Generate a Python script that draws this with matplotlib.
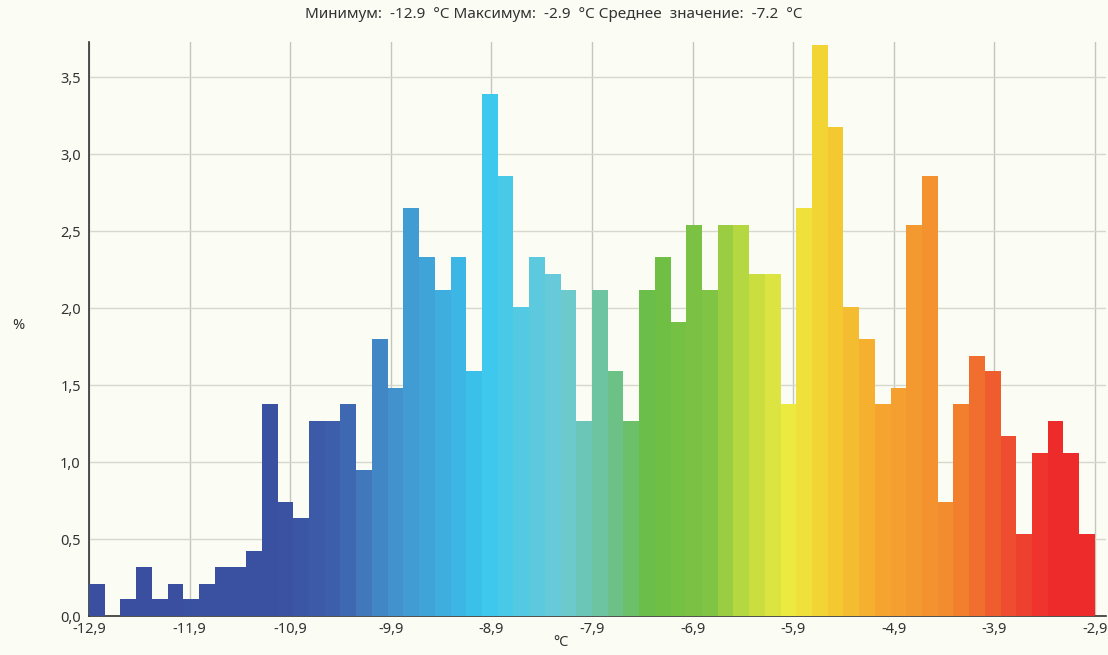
import numpy as np
import matplotlib as mpl
mpl.use('Agg')
import matplotlib.pyplot as plt
from matplotlib.colors import LinearSegmentedColormap

plt.rcParams['font.family'] = ['Noto Sans', 'DejaVu Sans']
plt.rcParams['font.size'] = 10

# histogram data, % per bin (64 bins from -12.9 to -2.9 °C)
t_min, t_max = -12.9, -2.9
percent = [0.21, 0.0, 0.11, 0.32, 0.11, 0.21, 0.11, 0.21, 0.32, 0.32,
           0.42, 1.38, 0.74, 0.64, 1.27, 1.27, 1.38, 0.95, 1.80, 1.48,
           2.65, 2.33, 2.12, 2.33, 1.59, 3.39, 2.86, 2.01, 2.33, 2.22,
           2.12, 1.27, 2.12, 1.59, 1.27, 2.12, 2.33, 1.91, 2.54, 2.12,
           2.54, 2.54, 2.22, 2.22, 1.38, 2.65, 3.71, 3.18, 2.01, 1.80,
           1.38, 1.48, 2.54, 2.86, 0.74, 1.38, 1.69, 1.59, 1.17, 0.53,
           1.06, 1.27, 1.06, 0.53]
x_ticks = [-12.9, -11.9, -10.9, -9.9, -8.9, -7.9, -6.9, -5.9, -4.9, -3.9, -2.9]
x_labels = ["-12,9", "-11,9", "-10,9", "-9,9", "-8,9", "-7,9", "-6,9",
            "-5,9", "-4,9", "-3,9", "-2,9"]
y_ticks = [0.0, 0.5, 1.0, 1.5, 2.0, 2.5, 3.0, 3.5]
y_labels = ["0,0", "0,5", "1,0", "1,5", "2,0", "2,5", "3,0", "3,5"]
title = "Минимум:  -12.9  °C Максимум:  -2.9  °C Среднее  значение:  -7.2  °C"

# temperature colour scale
stops = [(-12.9, "#3a4f9f"), (-11.0, "#3a50a0"), (-10.4, "#3d60ac"),
         (-9.9, "#4390cb"), (-9.1, "#3bbde9"), (-8.95, "#3cc8ee"),
         (-8.2, "#6ccad8"), (-7.75, "#6cc39a"), (-7.3, "#6cbe45"),
         (-6.7, "#80c443"), (-6.3, "#c4dc40"), (-5.9, "#eeea40"),
         (-5.5, "#f4cc30"), (-5.0, "#f5a62f"), (-4.3, "#f28a2e"),
         (-3.7, "#ee4a2f"), (-3.3, "#ee2b2b"), (-2.9, "#ee2b2b")]
cmap = LinearSegmentedColormap.from_list(
    "temp", [((t - t_min) / (t_max - t_min), c) for t, c in stops])

n = len(percent)
edges = np.linspace(t_min, t_max, n + 1)
width = edges[1] - edges[0]
centers = edges[:-1] + width / 2
colors = [cmap((c - t_min) / (t_max - t_min)) for c in centers]

bg = "#fbfcf4"
fig = plt.figure(figsize=(11.08, 6.55), dpi=100, facecolor=bg)
ax = fig.add_axes([89 / 1108, 39 / 655, 1017 / 1108, 574 / 655])
ax.set_facecolor(bg)

ax.bar(edges[:-1], percent, width=width, align='edge', color=colors,
       linewidth=0, zorder=3)

ax.set_xlim(t_min, -2.79)
ax.set_ylim(0, 3.73)
ax.set_xticks(x_ticks)
ax.set_xticklabels(x_labels)
ax.set_yticks(y_ticks)
ax.set_yticklabels(y_labels)
ax.tick_params(length=0, colors="#333333", labelsize=10.5)
ax.tick_params(axis='x', pad=4)
ax.tick_params(axis='y', pad=6)
ax.grid(True, color="#d6d8cc", linewidth=1, zorder=0)
ax.xaxis.grid(True, color="#c4c6bc")
ax.set_axisbelow(True)

for s in ["top", "right"]:
    ax.spines[s].set_visible(False)
for s in ["left", "bottom"]:
    ax.spines[s].set_color("#333333")
    ax.spines[s].set_linewidth(1.2)

fig.text(0.5, 1 - 15 / 655, title, ha='center', va='center',
         fontsize=11, color="#333333")
fig.text(18 / 1108, 1 - 325 / 655, "%", ha='center', va='center',
         fontsize=10.5, color="#333333")
fig.text(561 / 1108, 1 - 643 / 655, "°C", ha='center', va='center',
         fontsize=10.5, color="#333333")

plt.savefig("out.png", dpi=100, facecolor=bg)
plt.close(fig)
